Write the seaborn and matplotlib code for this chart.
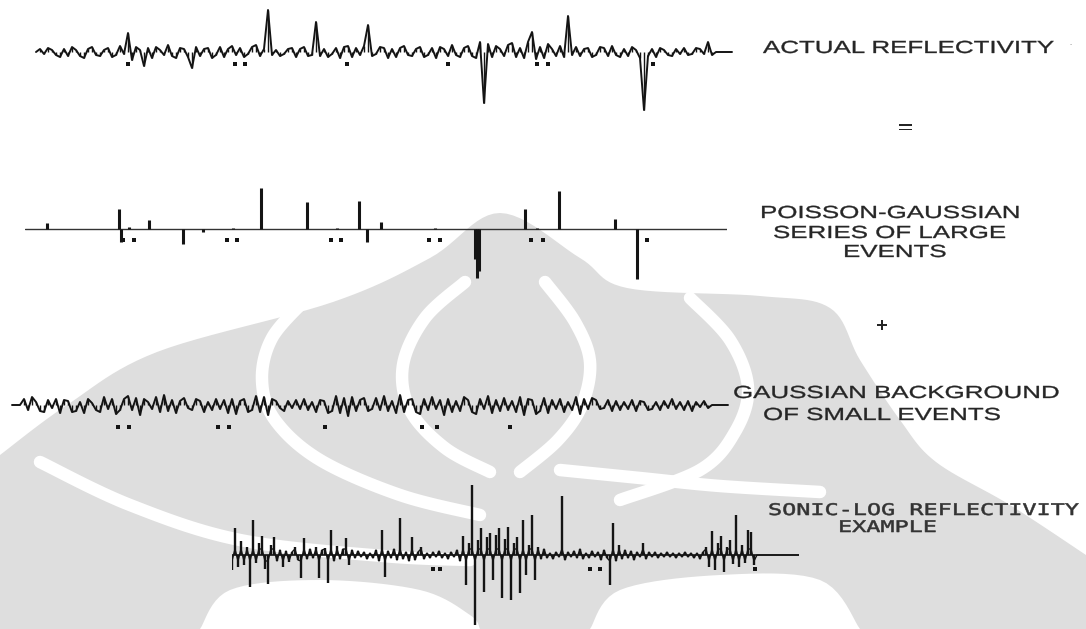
import numpy as np
import pandas as pd
import matplotlib
matplotlib.use("Agg")
import matplotlib.pyplot as plt
import seaborn as sns
from matplotlib.patheffects import AbstractPathEffect
from matplotlib.transforms import Affine2D
from matplotlib.patches import Polygon

sns.set_theme(style="white")
plt.rcParams["font.family"] = ["Liberation Sans", "DejaVu Sans"]

# ---------------------------------------------------------------------------
# Reflectivity series (amplitude, positive = up)
# ---------------------------------------------------------------------------
actual_reflectivity = [
    0, 3, -2, 4, 2, -3, -5, 3, -4, 5,
    2, -4, -6, 3, 5, -3, -4, 2, 4, -5,
    -3, 6, -2, 19, -8, 5, 2, -14, 4, -6,
    5, 2, -3, 7, -4, -6, 4, 3, -5, -16,
    5, -4, 3, 4, -6, -3, 5, -5, 3, 6,
    -3, 4, -5, -2, 5, 7, -4, 3, 42, -3,
    2, -4, -2, 3, 4, -5, 3, 5, -4, -3,
    30, -4, 3, -5, -2, 4, -6, 5, 6, -5,
    4, -3, 6, 27, -4, -2, 5, 4, -6, 3,
    -5, 4, 6, -3, -4, 3, 5, -5, -3, 4,
    -6, 5, 3, -4, 7, -3, -5, 4, 6, -4,
    -6, 10, -51, 8, -5, 6, 3, -4, 7, 9,
    -5, 4, -6, 10, 20, -7, 5, -6, 8, 3,
    -4, 6, -5, 36, -3, 5, -4, 3, 4, -5,
    -3, 5, 4, -4, 6, -3, -5, 3, -4, 5,
    2, -6, -58, -4, 3, -5, 4, 2, -3, -4,
    3, -2, 4, -3, -2, 4, 3, -2, 10, -3,
    0, 0, 0, 0, 0,
]
actual_marks = [23, 49.75, 52.25, 77.75, 103, 125.25, 128, 154.25]

# Poisson-Gaussian series of large events: sample index and amplitude
large_n = 352
large_index = [11, 47, 48, 52, 62, 79, 89, 104, 118, 141, 156, 167, 171,
               178, 205, 225, 226, 227, 250, 256, 267, 295, 306]
large_amp = [6, 20, -13, 2, 9, -15, -3, 1, 41, 27, 1, 28, -13,
             7, 1, -30, -49, -42, 20, 1, 38, 10, -50]
large_marks = [49, 54.5, 101, 106, 153, 158, 202, 207.5, 253, 259, 311]

# Gaussian background of small events
small_background = [
    0, 0, 0,
    6, -5, 8, 3, -6, -7, 5, -3, 6, -8,
    5, 4, -7, -6, 3, -8, 6, 2, -5, -7,
    8, -4, 6, -9, -5, 6, 9, -5, 7, -10,
    6, 3, -4, 8, -7, 10, -6, 5, -8, 4,
    7, -3, -5, 6, 4, -7, 3, -5, 6, -4,
    5, -8, 6, -9, 4, 6, -7, -5, 9, -7,
    8, -10, 6, 4, -3, -6, 4, -3, 5, -4,
    6, -5, 3, -7, 5, 4, -8, -6, 9, -8,
    7, -11, 8, -6, 5, 7, -6, -4, 7, -5,
    9, -6, 4, -8, 10, -7, 5, 6, -7, -9,
    6, -5, 8, -4, 5, -10, 6, -7, 4, -6,
    8, 5, -7, -9, 6, -4, 9, -8, 5, -6,
    7, -5, 4, -7, 8, -10, 6, 5, -9, -6,
    7, -8, 5, -4, 6, -7, 3, -5, 8, -9,
    6, -4, 7, 5, -4, -3, 5, -6, 4, -5,
    3, -4, 5, -6, 4, 3, -5, -4, 3, -5,
    4, -3, 6, -4, 3, -5, 4, -6, 3, -2,
    4, -3, 0, 0, 0, 0, 0,
]
small_marks = [26.5, 29.25, 51.5, 54.25, 78.25, 102.5, 106.25, 124.5]

# Sonic-log reflectivity example
sonic_log = [
    -15, 27, -12, 14, -10, 8, -32, 35, -8, 12,
    19, -14, -29, 10, 18, -6, 5, -12, 4, -7,
    3, 8, -5, -23, 17, -4, 6, -3, 8, -23,
    5, 7, -28, 25, -6, 9, -4, 6, 17, -10,
    5, -3, 4, -2, 3, -4, 2, -3, 5, -6,
    25, -22, 4, -3, 6, -5, 37, -4, 3, -6,
    18, -5, 3, 8, -4, 2, -3, 3, -2, 4,
    -3, 2, -4, 3, -2, 5, -6, 19, -30, 12,
    70, -70, 15, 27, -37, 18, 22, -25, 20, 27,
    -43, 16, 28, -45, 12, 18, -38, 35, -20, 10,
    40, -25, 8, -4, 6, -3, 2, -4, 3, -2,
    59, -5, 3, -2, 4, -3, 6, -4, 2, -3,
    4, -2, 3, -5, 5, -3, -30, 32, -6, 10,
    -4, 5, -3, 4, -5, 3, -2, 12, -4, 3,
    -2, 3, -3, 2, -2, 3, -2, 2, -3, 2,
    -2, 3, -2, 2, -3, 2, -4, 3, 8, -12,
    24, -15, 12, 19, -17, 8, 15, -9, 40, -12,
    10, -8, 25, 23, -10, 0, 0, 0, 0, 0,
    0, 0, 0, 0, 0, 0, 0, 0, 0, 0,
]
sonic_marks = [67, 69.3, 119.3, 122.7, 174.3]

# ---------------------------------------------------------------------------
W, H = 1086, 629
INK = "#141414"
fig = plt.figure(figsize=(W / 100, H / 100), dpi=100)
fig.patch.set_facecolor("white")


# ---------------------------------------------------------------------------
# Pale emblem behind the page (pixel frame, y downwards)
def catmull(points, n=20):
    p = np.asarray(points, float)
    p = np.vstack([p[0], p, p[-1]])
    out = []
    for i in range(1, len(p) - 2):
        p0, p1, p2, p3 = p[i - 1], p[i], p[i + 1], p[i + 2]
        t = np.linspace(0, 1, n, endpoint=False)[:, None]
        out.append(0.5 * ((2 * p1) + (-p0 + p2) * t
                          + (2 * p0 - 5 * p1 + 4 * p2 - p3) * t ** 2
                          + (-p0 + 3 * p1 - 3 * p2 + p3) * t ** 3))
    out.append(p[-2][None, :])
    return np.vstack(out)


bg = fig.add_axes([0, 0, 1, 1], zorder=-5)
bg.set_xlim(0, W)
bg.set_ylim(H, 0)
bg.axis("off")
PALE = "#dedede"
outline = [(0, 455), (67, 405), (157, 352), (333, 302), (430, 258),
           (500, 213), (580, 258), (627, 288), (760, 296), (830, 308),
           (860, 360), (900, 420), (936, 462), (1010, 505), (1086, 555)]
bg.add_patch(Polygon(catmull(outline, 12).tolist() + [(1086, 629), (0, 629)],
                     closed=True, facecolor=PALE, edgecolor="none"))
gaps = [
    [(465, 282), (425, 318), (403, 365), (410, 410), (445, 448), (490, 472)],
    [(545, 282), (575, 322), (590, 362), (582, 405), (558, 440), (520, 472)],
    [(305, 300), (272, 338), (262, 380), (275, 420), (320, 460), (400, 495), (480, 515)],
    [(690, 298), (730, 340), (748, 388), (735, 432), (700, 470), (620, 500)],
    [(40, 462), (130, 505), (240, 540), (383, 556), (470, 560)],
    [(560, 470), (640, 478), (720, 486), (820, 492)],
]
for g in gaps:
    c = catmull(g)
    bg.plot(c[:, 0], c[:, 1], color="white", lw=9, solid_capstyle="round")
for blob in [
    [(200, 629), (230, 590), (320, 580), (420, 590), (470, 615), (480, 629)],
    [(590, 629), (620, 590), (720, 575), (820, 580), (860, 629)],
]:
    bg.add_patch(Polygon(catmull(blob, 10), closed=True, facecolor="white", edgecolor="none"))


# ---------------------------------------------------------------------------
class HStretch(AbstractPathEffect):
    """Widen glyphs horizontally (extended lettering) with a light outline."""

    def __init__(self, sx, stroke=0.25):
        super().__init__()
        self._sx = sx
        self._stroke = stroke

    def draw_path(self, renderer, gc, tpath, affine, rgbFace=None):
        tr = Affine2D().scale(self._sx, 1.0) + affine
        gc0 = renderer.new_gc()
        gc0.copy_properties(gc)
        gc0.set_linewidth(self._stroke)
        if rgbFace is not None:
            gc0.set_foreground(rgbFace)
        renderer.draw_path(gc0, tpath, tr, rgbFace)
        gc0.restore()


def trace_axes(x0, dx, n, baseline, half=90):
    x1 = x0 + dx * (n - 1)
    ax = fig.add_axes([x0 / W, (H - baseline - half) / H, (x1 - x0) / W, 2 * half / H])
    ax.set_xlim(0, n - 1)
    ax.set_ylim(-half, half)
    ax.axis("off")
    ax.patch.set_alpha(0)
    return ax


def marks(ax, where, depth):
    dots = pd.DataFrame({"sample": where, "amp": [-depth] * len(where)})
    sns.scatterplot(data=dots, x="sample", y="amp", ax=ax, color=INK,
                    marker="s", s=7, linewidth=0, legend=False)


def wiggle(ax, values, lw=1.4):
    df = pd.DataFrame({"sample": np.arange(len(values)), "amp": values})
    sns.lineplot(data=df, x="sample", y="amp", ax=ax, color=INK, lw=lw,
                 estimator=None, sort=False, legend=False)
    ax.vlines(df["sample"], 0, df["amp"], color=INK, lw=1.0)
    for ln in ax.lines:
        ln.set_clip_on(False)


# Actual reflectivity
ax1 = trace_axes(36, 4, len(actual_reflectivity), 52)
wiggle(ax1, actual_reflectivity)
marks(ax1, actual_marks, 12)

# Large events: sticks on a flat baseline
ax2 = trace_axes(25, 2, large_n, 229)
ax2.axhline(0, color="#333333", lw=1.0)
ax2.vlines(large_index, 0, large_amp, color=INK, lw=2.2)
marks(ax2, large_marks, 11)

# Gaussian background
ax3 = trace_axes(12, 4, len(small_background), 405)
wiggle(ax3, small_background)
marks(ax3, small_marks, 22)

# Sonic log: spikes standing on the depth axis
ax4 = trace_axes(232, 3, len(sonic_log), 555)
ax4.axhline(0, color=INK, lw=1.2)
sdf = pd.DataFrame({"sample": np.arange(len(sonic_log)), "amp": sonic_log})
ax4.vlines(sdf["sample"], 0, sdf["amp"], color=INK, lw=1.7)
sns.lineplot(data=sdf, x="sample", y=sdf["amp"].clip(-6, 6), ax=ax4, color=INK,
             lw=1.0, estimator=None, sort=False, legend=False)
marks(ax4, sonic_marks, 14)

# ---------------------------------------------------------------------------
# Labels
tx = fig.add_axes([0, 0, 1, 1])
tx.set_xlim(0, W)
tx.set_ylim(H, 0)
tx.axis("off")
tx.patch.set_alpha(0)

TEXT = "#262626"
SANS = dict(family=["Liberation Sans", "DejaVu Sans"], fontsize=12.6, color=TEXT)
MONO = dict(family=["DejaVu Sans Mono"], fontsize=11.5, color="#333333")
SX = 1.48
SXM = 1.47


def label(x, y, s, style, sx, stroke=0.25):
    tx.text(x, y, s, ha="left", va="baseline",
            path_effects=[HStretch(sx, stroke)], **style)


label(763, 53, "ACTUAL REFLECTIVITY", SANS, SX)
tx.text(1071, 48, "·", ha="center", va="baseline", color="#9a9a9a", fontsize=9)
label(898, 133, "=", SANS, SX, 0.0)
label(760, 218, "POISSON-GAUSSIAN", SANS, SX)
label(773, 238, "SERIES OF LARGE", SANS, SX)
label(843, 257, "EVENTS", SANS, SX)
label(876, 332, "+", dict(SANS, fontsize=15), 1.0, 0.0)
label(733, 398, "GAUSSIAN BACKGROUND", SANS, SX)
label(763, 420, "OF SMALL EVENTS", SANS, SX)
label(768, 515, "SONIC-LOG REFLECTIVITY", MONO, SXM, 0.4)
label(838, 532, "EXAMPLE", MONO, SXM, 0.4)

fig.savefig("out.png", dpi=100, facecolor="white")
